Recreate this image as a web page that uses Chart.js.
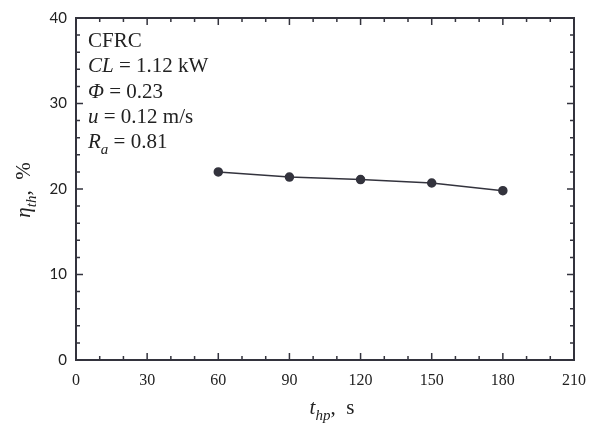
<!DOCTYPE html>
<html>
<head>
<meta charset="utf-8">
<script src="https://cdn.jsdelivr.net/npm/chart.js@4"></script>
<style>
  html, body { margin: 0; padding: 0; background: #fff; }
  #wrap { width: 602px; height: 430px; }
</style>
</head>
<body>
<div id="wrap"><canvas id="myChart" width="602" height="430"></canvas></div>
<script>
// data
const holdTimes = [60, 90, 120, 150, 180];       // t_hp, s
const efficiency = [22.0, 21.4, 21.1, 20.7, 19.8]; // eta_th, %
const xTickLabels = [0, 30, 60, 90, 120, 150, 180, 210];
const yTickLabels = [0, 10, 20, 30, 40];

const ink = '#33333d';
const serif = '"Liberation Serif", "DejaVu Serif", serif';

// text lines in the box: [text, style] runs
const noteLines = [
    [['CFRC', 'n']],
    [['CL', 'i'], [' = 1.12 kW', 'n']],
    [['Φ', 'i'], [' = 0.23', 'n']],
    [['u', 'i'], [' = 0.12 m/s', 'n']],
    [['R', 'i'], ['a', 'sub'], [' = 0.81', 'n']],
];

function fontFor(style, size) {
    if (style === 'i') return `italic ${size}px ${serif}`;
    if (style === 'sub') return `italic ${Math.round(size * 0.7)}px ${serif}`;
    return `${size}px ${serif}`;
}

function runWidth(ctx, runs, size) {
    let w = 0;
    runs.forEach(r => {
        ctx.font = fontFor(r[1], size);
        w += ctx.measureText(r[0]).width;
    });
    return w;
}

function drawRuns(ctx, runs, x, y, size) {
    let cx = x;
    runs.forEach(r => {
        ctx.font = fontFor(r[1], size);
        const dy = r[1] === 'sub' ? size * 0.3 : 0;
        ctx.fillText(r[0], cx, y + dy);
        cx += ctx.measureText(r[0]).width;
    });
}

const framePlugin = {
    id: 'frame',
    afterDraw(chart) {
        const ctx = chart.ctx;
        const a = chart.chartArea;
        const xs = chart.scales.x;
        const ys = chart.scales.y;
        ctx.save();
        ctx.strokeStyle = ink;
        ctx.lineWidth = 2;
        ctx.strokeRect(a.left, a.top, a.right - a.left, a.bottom - a.top);

        // inward ticks on all four sides
        ctx.lineWidth = 1.5;
        for (let v = 0; v <= 210; v += 10) {
            const px = xs.getPixelForValue(v);
            const len = v % 30 === 0 ? 7 : 4;
            ctx.beginPath();
            ctx.moveTo(px, a.bottom); ctx.lineTo(px, a.bottom - len);
            ctx.moveTo(px, a.top); ctx.lineTo(px, a.top + len);
            ctx.stroke();
        }
        for (let v = 0; v <= 40; v += 2) {
            const py = ys.getPixelForValue(v);
            const len = v % 10 === 0 ? 7 : 4;
            ctx.beginPath();
            ctx.moveTo(a.left, py); ctx.lineTo(a.left + len, py);
            ctx.moveTo(a.right, py); ctx.lineTo(a.right - len, py);
            ctx.stroke();
        }

        // note block
        ctx.fillStyle = '#222';
        ctx.textBaseline = 'alphabetic';
        const baselines = [47, 72, 98, 123, 148];
        noteLines.forEach((runs, i) => drawRuns(ctx, runs, 88, baselines[i], 21));

        // x title: t_hp, s
        const xt = [['t', 'i'], ['hp', 'sub'], [',  s', 'n']];
        const xw = runWidth(ctx, xt, 21);
        drawRuns(ctx, xt, 332 - xw / 2, 414, 21);

        // y title: eta_th, %
        const yt = [['η', 'i'], ['th', 'sub'], [',  %', 'n']];
        ctx.translate(30, 190);
        ctx.rotate(-Math.PI / 2);
        const yw = runWidth(ctx, yt, 21);
        drawRuns(ctx, yt, -yw / 2, 0, 21);
        ctx.restore();
    }
};

new Chart(document.getElementById('myChart'), {
    type: 'line',
    data: {
        datasets: [{
            data: holdTimes.map((t, i) => ({ x: t, y: efficiency[i] })),
            borderColor: ink,
            backgroundColor: ink,
            borderWidth: 1.5,
            pointRadius: 4,
            pointHoverRadius: 4,
            tension: 0,
        }]
    },
    options: {
        responsive: false,
        animation: false,
        events: [],
        layout: { padding: { left: 0, top: 14, right: 28, bottom: 0 } },
        plugins: { legend: { display: false }, tooltip: { enabled: false } },
        scales: {
            x: {
                type: 'linear',
                min: 0, max: 210,
                afterBuildTicks: s => { s.ticks = xTickLabels.map(v => ({ value: v })); },
                afterFit: s => { s.height = 70; },
                grid: { display: false, drawTicks: false },
                border: { display: false },
                ticks: {
                    padding: 11,
                    color: '#222',
                    font: { family: serif, size: 16 },
                    maxRotation: 0,
                },
            },
            y: {
                min: 0, max: 40,
                afterBuildTicks: s => { s.ticks = yTickLabels.map(v => ({ value: v })); },
                afterFit: s => { s.width = 76; },
                grid: { display: false, drawTicks: false },
                border: { display: false },
                ticks: {
                    padding: 9,
                    color: '#222',
                    font: { family: 'Lato, "Open Sans", sans-serif', size: 15 },
                },
            }
        }
    },
    plugins: [framePlugin]
});
</script>
</body>
</html>
